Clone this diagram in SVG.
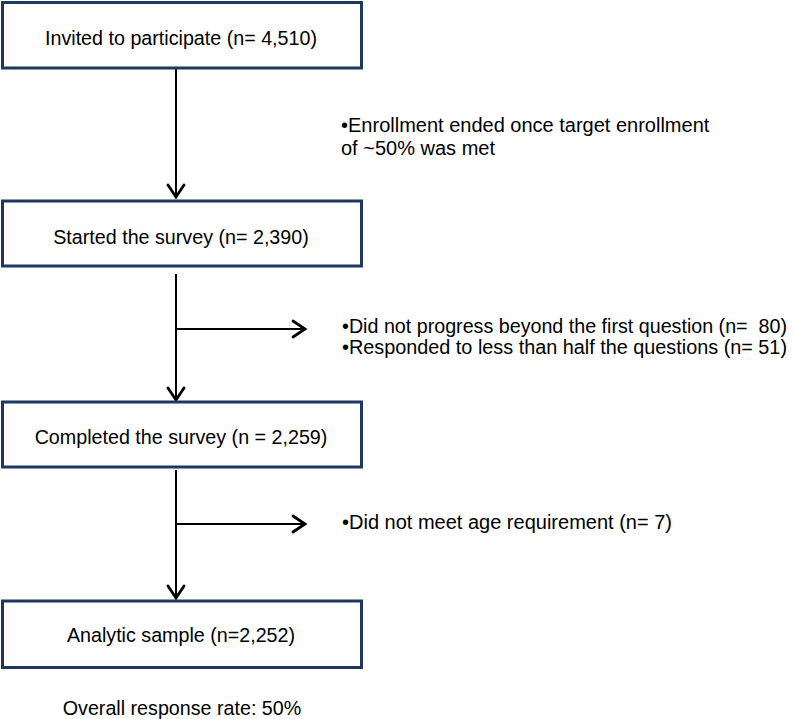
<svg xmlns="http://www.w3.org/2000/svg" width="793" height="719" viewBox="0 0 793 719">
<style>
.box{fill:#fff;stroke:#1f3760;stroke-width:3}
.t{font-family:"Liberation Sans",Arial,sans-serif;font-size:19.7px;fill:#000;white-space:pre}
.s{font-size:20px}
.c{text-anchor:middle}
.ln{stroke:#000;stroke-width:2;fill:none}
.hd{stroke:#000;stroke-width:2.8;fill:none;stroke-linecap:round;stroke-linejoin:miter}
</style>
<rect width="793" height="719" fill="#fff"/>
<g id="connectors">
<line class="ln" x1="176" y1="69" x2="176" y2="196"/>
<polyline class="hd" points="168,185 176,197 184,185"/>
<line class="ln" x1="176" y1="274" x2="176" y2="399"/>
<polyline class="hd" points="168,388 176,400 184,388"/>
<line class="ln" x1="176" y1="329" x2="304" y2="329"/>
<polyline class="hd" points="293,321 305,329 293,337"/>
<line class="ln" x1="176" y1="470" x2="176" y2="597"/>
<polyline class="hd" points="168,586 176,598 184,586"/>
<line class="ln" x1="176" y1="524" x2="304" y2="524"/>
<polyline class="hd" points="293,516 305,524 293,532"/>
</g>
<g id="n1">
<rect class="box" x="2.5" y="2.5" width="359" height="65.5"/>
<text class="t c" x="181" y="45">Invited to participate (n= 4,510)</text>
</g>
<g id="n2">
<rect class="box" x="2.5" y="201" width="359" height="65"/>
<text class="t c" x="181" y="244">Started the survey (n= 2,390)</text>
</g>
<g id="n3">
<rect class="box" x="2.5" y="402" width="359" height="65"/>
<text class="t c" x="181" y="443.5">Completed the survey (n = 2,259)</text>
</g>
<g id="n4">
<rect class="box" x="2.5" y="601" width="359" height="66.5"/>
<text class="t c" x="181" y="642">Analytic sample (n=2,252)</text>
</g>
<g id="notes">
<text class="t s" x="341" y="132">•Enrollment ended once target enrollment</text>
<text class="t s" x="341" y="155">of ~50% was met</text>
<text class="t s" x="342" y="333" xml:space="preserve" textLength="445" lengthAdjust="spacingAndGlyphs">•Did not progress beyond the first question (n=  80)</text>
<text class="t s" x="342" y="354" textLength="445" lengthAdjust="spacingAndGlyphs">•Responded to less than half the questions (n= 51)</text>
<text class="t s" x="342" y="529">•Did not meet age requirement (n= 7)</text>
<text class="t c" x="182" y="715">Overall response rate: 50%</text>
</g>
</svg>
